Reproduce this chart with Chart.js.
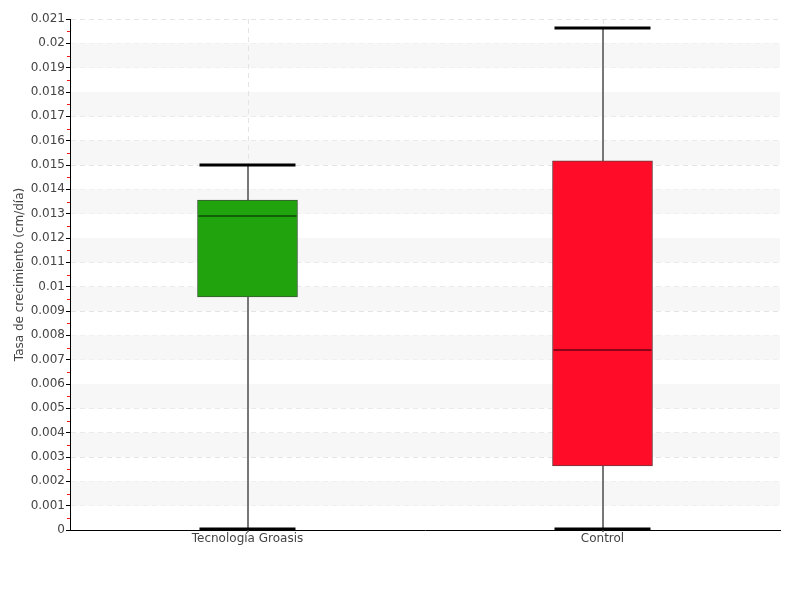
<!DOCTYPE html>
<html>
<head>
<meta charset="utf-8">
<script src="https://cdn.jsdelivr.net/npm/chart.js@4/dist/chart.umd.min.js"></script>
<style>
  body { margin: 0; background: #fff; }
  canvas { display: block; }
</style>
</head>
<body>
<canvas id="boxChart" width="800" height="600"></canvas>
<script>
// Data
const categories = ['Tecnología Groasis', 'Control'];
const mins = [0, 0];
const q1s = [0.00958, 0.00263];
const medians = [0.0129, 0.0074];
const q3s = [0.01356, 0.01517];
const maxs = [0.015, 0.02063];
const yTicks = [0, 0.001, 0.002, 0.003, 0.004, 0.005, 0.006, 0.007, 0.008, 0.009, 0.01,
  0.011, 0.012, 0.013, 0.014, 0.015, 0.016, 0.017, 0.018, 0.019, 0.02, 0.021];

const boxColors = ['#21a30d', '#ff0c28'];
const boxBorders = ['#3b5a36', '#6b3a3e'];
const medianColors = ['#0d4a08', '#6a0010'];
const FONT = "'DejaVu Sans', sans-serif";
const labelFont = { family: FONT, size: 12, style: 'condensed' };

// alternating bands + vertical dashed lines behind everything
const bandsPlugin = {
  id: 'bands',
  beforeDatasetsDraw(chart) {
    const { ctx, chartArea, scales } = chart;
    const y = scales.y, x = scales.x;
    ctx.save();
    ctx.fillStyle = '#f7f7f7';
    for (let i = 1; i < yTicks.length - 1; i += 2) {
      const top = y.getPixelForValue(yTicks[i + 1]);
      const bottom = y.getPixelForValue(yTicks[i]);
      ctx.fillRect(chartArea.left + 1, top, chartArea.right - chartArea.left - 1, bottom - top);
    }
    ctx.strokeStyle = '#e4e4e4';
    ctx.setLineDash([5, 4]);
    categories.forEach((c, i) => {
      const cx = Math.round(x.getPixelForValue(i)) + 0.5;
      ctx.beginPath();
      ctx.moveTo(cx, chartArea.top);
      ctx.lineTo(cx, chartArea.bottom);
      ctx.stroke();
    });
    ctx.restore();
  }
};

// whiskers, caps, medians and red minor ticks
const boxPlugin = {
  id: 'boxparts',
  beforeDatasetsDraw(chart) {
    const { ctx, scales } = chart;
    const x = scales.x, y = scales.y;
    ctx.save();
    ctx.strokeStyle = '#777';
    ctx.lineWidth = 2;
    categories.forEach((c, i) => {
      const cx = Math.round(x.getPixelForValue(i));
      ctx.beginPath();
      ctx.moveTo(cx, y.getPixelForValue(maxs[i]));
      ctx.lineTo(cx, y.getPixelForValue(mins[i]) + 2);
      ctx.stroke();
    });
    ctx.restore();
  },
  afterDatasetsDraw(chart) {
    const { ctx, scales, chartArea } = chart;
    const x = scales.x, y = scales.y;
    const half = 48;
    ctx.save();
    categories.forEach((c, i) => {
      const cx = x.getPixelForValue(i);
      // caps
      ctx.strokeStyle = '#000';
      ctx.lineWidth = 3;
      [mins[i], maxs[i]].forEach(v => {
        const py = y.getPixelForValue(v) - (v === 0 ? 1 : 0);
        ctx.beginPath();
        ctx.moveTo(cx - half, py);
        ctx.lineTo(cx + half, py);
        ctx.stroke();
      });
      // median
      ctx.strokeStyle = medianColors[i];
      ctx.lineWidth = 1.5;
      const my = y.getPixelForValue(medians[i]);
      ctx.beginPath();
      ctx.moveTo(cx - 49, my);
      ctx.lineTo(cx + 49, my);
      ctx.stroke();
    });
    // minor ticks
    ctx.strokeStyle = '#f01818';
    ctx.lineWidth = 1;
    for (let i = 0; i < yTicks.length - 1; i++) {
      const py = Math.round(y.getPixelForValue((yTicks[i] + yTicks[i + 1]) / 2)) + 0.5;
      ctx.beginPath();
      ctx.moveTo(chartArea.left - 3, py);
      ctx.lineTo(chartArea.left, py);
      ctx.stroke();
    }
    ctx.restore();
  }
};

new Chart(document.getElementById('boxChart'), {
  type: 'bar',
  data: {
    labels: categories,
    datasets: [{
      data: q1s.map((q, i) => [q, q3s[i]]),
      backgroundColor: boxColors,
      borderColor: boxBorders,
      borderWidth: 1,
      borderSkipped: false,
      barThickness: 100
    }]
  },
  options: {
    responsive: false,
    animation: false,
    layout: { padding: { top: 19, right: 20, left: 10, bottom: 0 } },
    plugins: { legend: { display: false }, tooltip: { enabled: false } },
    scales: {
      x: {
        offset: true,
        grid: { display: false, drawTicks: false },
        border: { color: '#000', width: 1 },
        ticks: { color: '#444', font: labelFont, padding: 2 },
        afterFit(scale) { scale.height = 70; }
      },
      y: {
        min: 0,
        max: 0.021,
        afterBuildTicks(scale) { scale.ticks = yTicks.map(v => ({ value: v })); },
        ticks: {
          color: '#444',
          font: labelFont,
          padding: 1,
          callback: v => String(+v.toFixed(3))
        },
        grid: {
          color: '#e4e4e4',
          tickColor: '#000',
          tickLength: 4,
          tickBorderDash: [],
          drawOnChartArea: true
        },
        border: { color: '#000', width: 1, dash: [5, 4] },
        title: {
          display: true,
          text: 'Tasa de crecimiento (cm/día)',
          color: '#444',
          font: labelFont,
          padding: { top: 3, bottom: 0 }
        },
        afterFit(scale) { scale.width = 60; }
      }
    }
  },
  plugins: [bandsPlugin, boxPlugin]
});
</script>
</body>
</html>
